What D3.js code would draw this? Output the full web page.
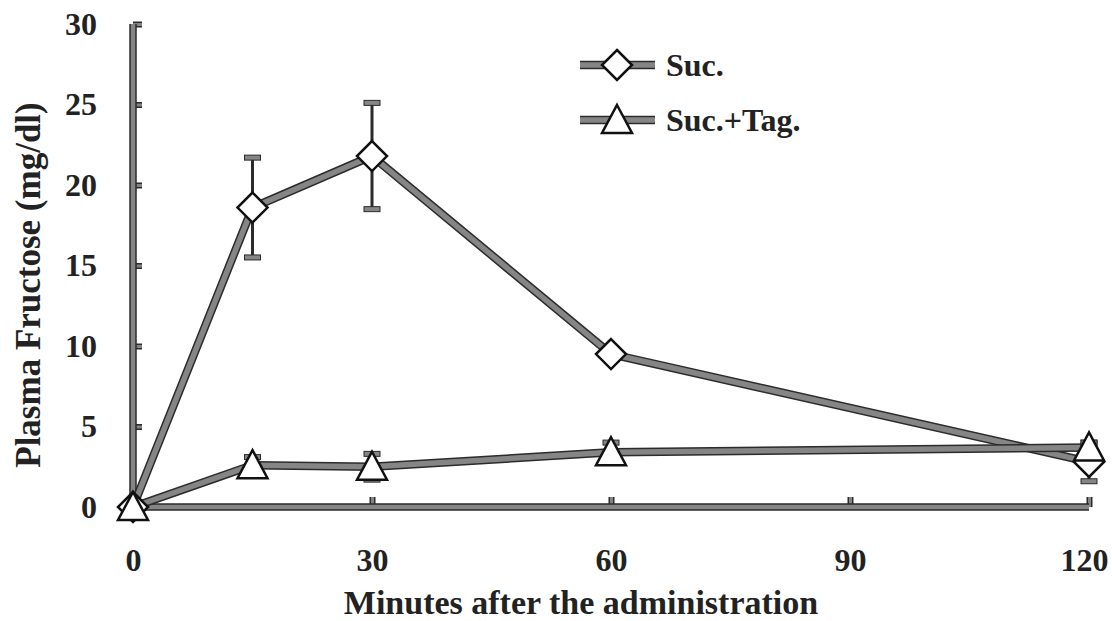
<!DOCTYPE html>
<html>
<head>
<meta charset="utf-8">
<script src="https://cdn.jsdelivr.net/npm/d3@7"></script>
<style>
  body { margin: 0; background: #fff; }
  text { font-family: "Liberation Serif", "Times New Roman", serif; font-weight: bold; fill: #222; }
</style>
</head>
<body>
<div id="graph-container"></div>
<script>
// Data
const minutes = [0, 15, 30, 60, 120];
const sucMean = [0, 18.6, 21.8, 9.5, 2.8];
const sucErr = [0, 3.1, 3.3, 0, 1.2];
const tagMean = [0, 2.6, 2.5, 3.4, 3.7];
const tagErr = [0, 0.5, 0.8, 0.6, 0.3];
const xTicks = [0, 30, 60, 90, 120];
const yTicks = [0, 5, 10, 15, 20, 25, 30];
const seriesNames = ["Suc.", "Suc.+Tag."];

const W = 1112, H = 621;
const margin = { top: 24, right: 23, bottom: 114, left: 133 };

const x = d3.scaleLinear().domain([0, 120]).range([margin.left, W - margin.right]);
const y = d3.scaleLinear().domain([0, 30]).range([H - margin.bottom, margin.top]);

const svg = d3.select("#graph-container")
  .append("svg")
    .attr("width", W)
    .attr("height", H);

const grey = "#858585", dark = "#2b2b2b";

// thick grey stroke with darker edges, like the scanned figure
function thickLine(g, d, w) {
  g.append("path").attr("d", d).attr("fill", "none")
    .attr("stroke", dark).attr("stroke-width", w + 1.5).attr("stroke-linejoin", "round");
  g.append("path").attr("d", d).attr("fill", "none")
    .attr("stroke", grey).attr("stroke-width", w - 1.5).attr("stroke-linejoin", "round");
}

// Axes (ticks point inward)
const yAxis = svg.append("g")
  .attr("transform", `translate(${x(0)},0)`)
  .call(d3.axisLeft(y).tickValues(yTicks).tickSize(-9).tickSizeOuter(0).tickPadding(36));
const xAxis = svg.append("g")
  .attr("transform", `translate(0,${y(0)})`)
  .call(d3.axisBottom(x).tickValues(xTicks).tickSize(-10).tickSizeOuter(0).tickPadding(41));

[yAxis, xAxis].forEach(a => {
  a.select(".domain").remove();
  a.selectAll(".tick line").attr("stroke", dark).attr("stroke-width", 6);
  a.selectAll(".tick text").style("font-size", "32px").attr("fill", "#222");
  a.selectAll(".tick").filter(d => d === 0).select("line").remove();
  a.selectAll(".tick line").clone().attr("stroke", grey).attr("stroke-width", 3);
});
// last label sits a little left of its tick so it stays on the page
xAxis.selectAll(".tick").filter(d => d === 120).select("text").attr("dx", -5);

const axisG = svg.append("g");
thickLine(axisG, d3.line()([[x(0), y(30)], [x(0), y(0)], [x(120), y(0)]]), 6);

// Axis titles
svg.append("text")
  .attr("x", 581)
  .attr("y", 614)
  .attr("text-anchor", "middle")
  .style("font-size", "34px")
  .text("Minutes after the administration");

svg.append("text")
  .attr("transform", `translate(40,285) rotate(-90)`)
  .attr("text-anchor", "middle")
  .style("font-size", "35px")
  .text("Plasma Fructose (mg/dl)");

const line = d3.line().x((d, i) => x(minutes[i])).y(d => y(d));

// Series lines
const lines = svg.append("g");
thickLine(lines, line(sucMean), 7);
thickLine(lines, line(tagMean), 7);

// Error bars
function errorBars(means, errs) {
  const g = svg.append("g");
  means.forEach((m, i) => {
    if (!errs[i]) return;
    const cx = x(minutes[i]);
    g.append("line")
      .attr("x1", cx).attr("x2", cx)
      .attr("y1", y(m - errs[i])).attr("y2", y(m + errs[i]))
      .attr("stroke", dark).attr("stroke-width", 3);
    [m - errs[i], m + errs[i]].forEach(v => {
      g.append("rect")
        .attr("x", cx - 8).attr("y", y(v) - 2.5)
        .attr("width", 16).attr("height", 5)
        .attr("fill", grey).attr("stroke", dark).attr("stroke-width", 1);
    });
  });
}
errorBars(sucMean, sucErr);
errorBars(tagMean, tagErr);

const diamond = "M0,-15L15,0L0,15L-15,0Z";
const triangle = "M0,-15L15,13L-15,13Z";

svg.append("g").selectAll("path")
  .data(sucMean)
  .join("path")
    .attr("transform", (d, i) => `translate(${x(minutes[i])},${y(d)})`)
    .attr("d", diamond)
    .attr("fill", "#fff").attr("stroke", "#111").attr("stroke-width", 2.5);

svg.append("g").selectAll("path")
  .data(tagMean)
  .join("path")
    .attr("transform", (d, i) => `translate(${x(minutes[i])},${y(d)})`)
    .attr("d", triangle)
    .attr("fill", "#fff").attr("stroke", "#111").attr("stroke-width", 2.5);

// Legend
const legend = svg.append("g");
const shapes = [diamond, triangle];
seriesNames.forEach((name, i) => {
  const ly = 65 + i * 55;
  thickLine(legend, d3.line()([[580, ly], [655, ly]]), 7);
  legend.append("path")
    .attr("transform", `translate(617,${ly})`)
    .attr("d", shapes[i])
    .attr("fill", "#fff").attr("stroke", "#111").attr("stroke-width", 2.5);
  legend.append("text")
    .attr("x", 666).attr("y", ly + 11)
    .style("font-size", "32px")
    .text(name);
});
</script>
</body>
</html>
